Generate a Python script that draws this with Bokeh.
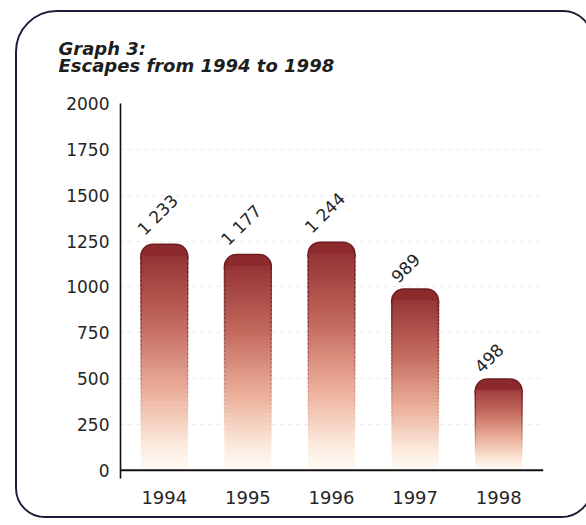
import numpy as np
from bokeh.plotting import figure
from bokeh.models import Range1d, FixedTicker, Title, Span
from bokeh.core.properties import value
from bokeh.embed import file_html
from bokeh.resources import INLINE

# Escapes per year
years = ["1994", "1995", "1996", "1997", "1998"]
escapes = [1233, 1177, 1244, 989, 498]
value_labels = ["1 233", "1 177", "1 244", "989", "498"]
y_ticks = [0, 250, 500, 750, 1000, 1250, 1500, 1750, 2000]

FONT = "DejaVu Sans"
INK = "#262626"

p = figure(width=578, height=508, output_backend="svg", toolbar_location=None,
           x_range=Range1d(-0.524, 4.536), y_range=Range1d(-45, 2000),
           min_border_left=103, min_border_right=52,
           min_border_top=91, min_border_bottom=42)
p.outline_line_color = None
p.background_fill_color = "white"
p.border_fill_color = "white"
# rounded frame around the whole graphic
p.margin = (10, 0, 0, 15)
p.styles = {"border": "2px solid #1d1d3a",
            "border-radius": "42px 30px 32px 30px",
            "overflow": "hidden"}

# two-line title, top left
title = Title(text="Graph 3:\nEscapes from 1994 to 1998", align="left",
              vertical_align="top", offset=-62, standoff=50,
              text_font=FONT, text_font_size="18px",
              text_font_style="bold italic", text_color="#1e1e1e",
              text_line_height=0.85)
p.add_layout(title, "above")

p.xaxis.ticker = FixedTicker(ticks=list(range(len(years))))
p.xaxis.major_label_overrides = {i: y for i, y in enumerate(years)}
p.yaxis.ticker = FixedTicker(ticks=y_ticks)
for ax in (p.xaxis, p.yaxis):
    ax.axis_line_color = "#111111"
    ax.axis_line_width = 1.6
    ax.major_tick_in = 0
    ax.major_tick_out = 0
    ax.minor_tick_in = 0
    ax.minor_tick_out = 0
    ax.major_label_text_font = FONT
    ax.major_label_text_color = INK
p.yaxis.major_label_text_font_size = "17px"
p.xaxis.major_label_text_font_size = "18px"
p.xaxis.axis_line_color = None
p.yaxis.major_label_standoff = 11
p.xaxis.major_label_standoff = 12

# baseline at zero
p.add_layout(Span(location=0, dimension="width", line_color="#111111", line_width=1.8))

p.xgrid.visible = False
p.ygrid.ticker = FixedTicker(ticks=y_ticks[1:])
p.ygrid.grid_line_color = "#d8d8d8"
p.ygrid.grid_line_dash = "4 4"
p.ygrid.grid_line_alpha = 0.5

# gradient stops, bottom (t=0) to top (t=1)
stops = [(0.0, (255, 252, 247)), (0.12, (251, 232, 218)), (0.35, (236, 176, 154)),
         (0.65, (194, 104, 92)), (1.0, (140, 42, 46))]


def shade(t):
    for (t0, c0), (t1, c1) in zip(stops[:-1], stops[1:]):
        if t <= t1:
            f = (t - t0) / (t1 - t0)
            return "#%02x%02x%02x" % tuple(int(round(a + (b - a) * f)) for a, b in zip(c0, c1))
    return "#%02x%02x%02x" % stops[-1][1]


xs = np.arange(len(years), dtype=float)
bar_w = 0.56
cap = 75
n_slices = 50
edge = "#6e1c20"

# rounded caps
p.vbar(x=xs, top=escapes, bottom=[v - cap for v in escapes], width=bar_w,
       fill_color=shade(1.0), line_color=edge, line_width=1.5,
       border_radius=(12, 12, 0, 0))

# gradient body as thin overlapping slices
sx, sb, st, sc, ea = [], [], [], [], []
for x, v in zip(xs, escapes):
    body_top = v - cap + 12
    edges = np.linspace(0, body_top, n_slices + 1)
    for b, t in zip(edges[:-1], edges[1:]):
        sx.append(x)
        sb.append(b)
        st.append(min(t + 8, body_top))
        frac = ((b + t) / 2) / v
        sc.append(shade(frac))
        ea.append(max(0.0, (frac - 0.1) / 0.9) ** 1.6)
p.vbar(x=sx, bottom=sb, top=st, width=bar_w, fill_color=sc, line_color=None)

# fading side edges
sx_arr = np.array(sx)
p.segment(x0=np.concatenate([sx_arr - bar_w / 2, sx_arr + bar_w / 2]),
          x1=np.concatenate([sx_arr - bar_w / 2, sx_arr + bar_w / 2]),
          y0=sb + sb, y1=st + st, line_color=edge, line_width=1.4,
          line_alpha=ea + ea)

# rotated value labels
p.text(x=xs - 0.2, y=escapes, text=value_labels, angle=45, angle_units="deg",
       text_align="left", text_baseline="bottom", y_offset=-5,
       text_font=value(FONT), text_font_size="17px", text_color=INK)

open("out.html", "w").write(file_html(p, INLINE))
